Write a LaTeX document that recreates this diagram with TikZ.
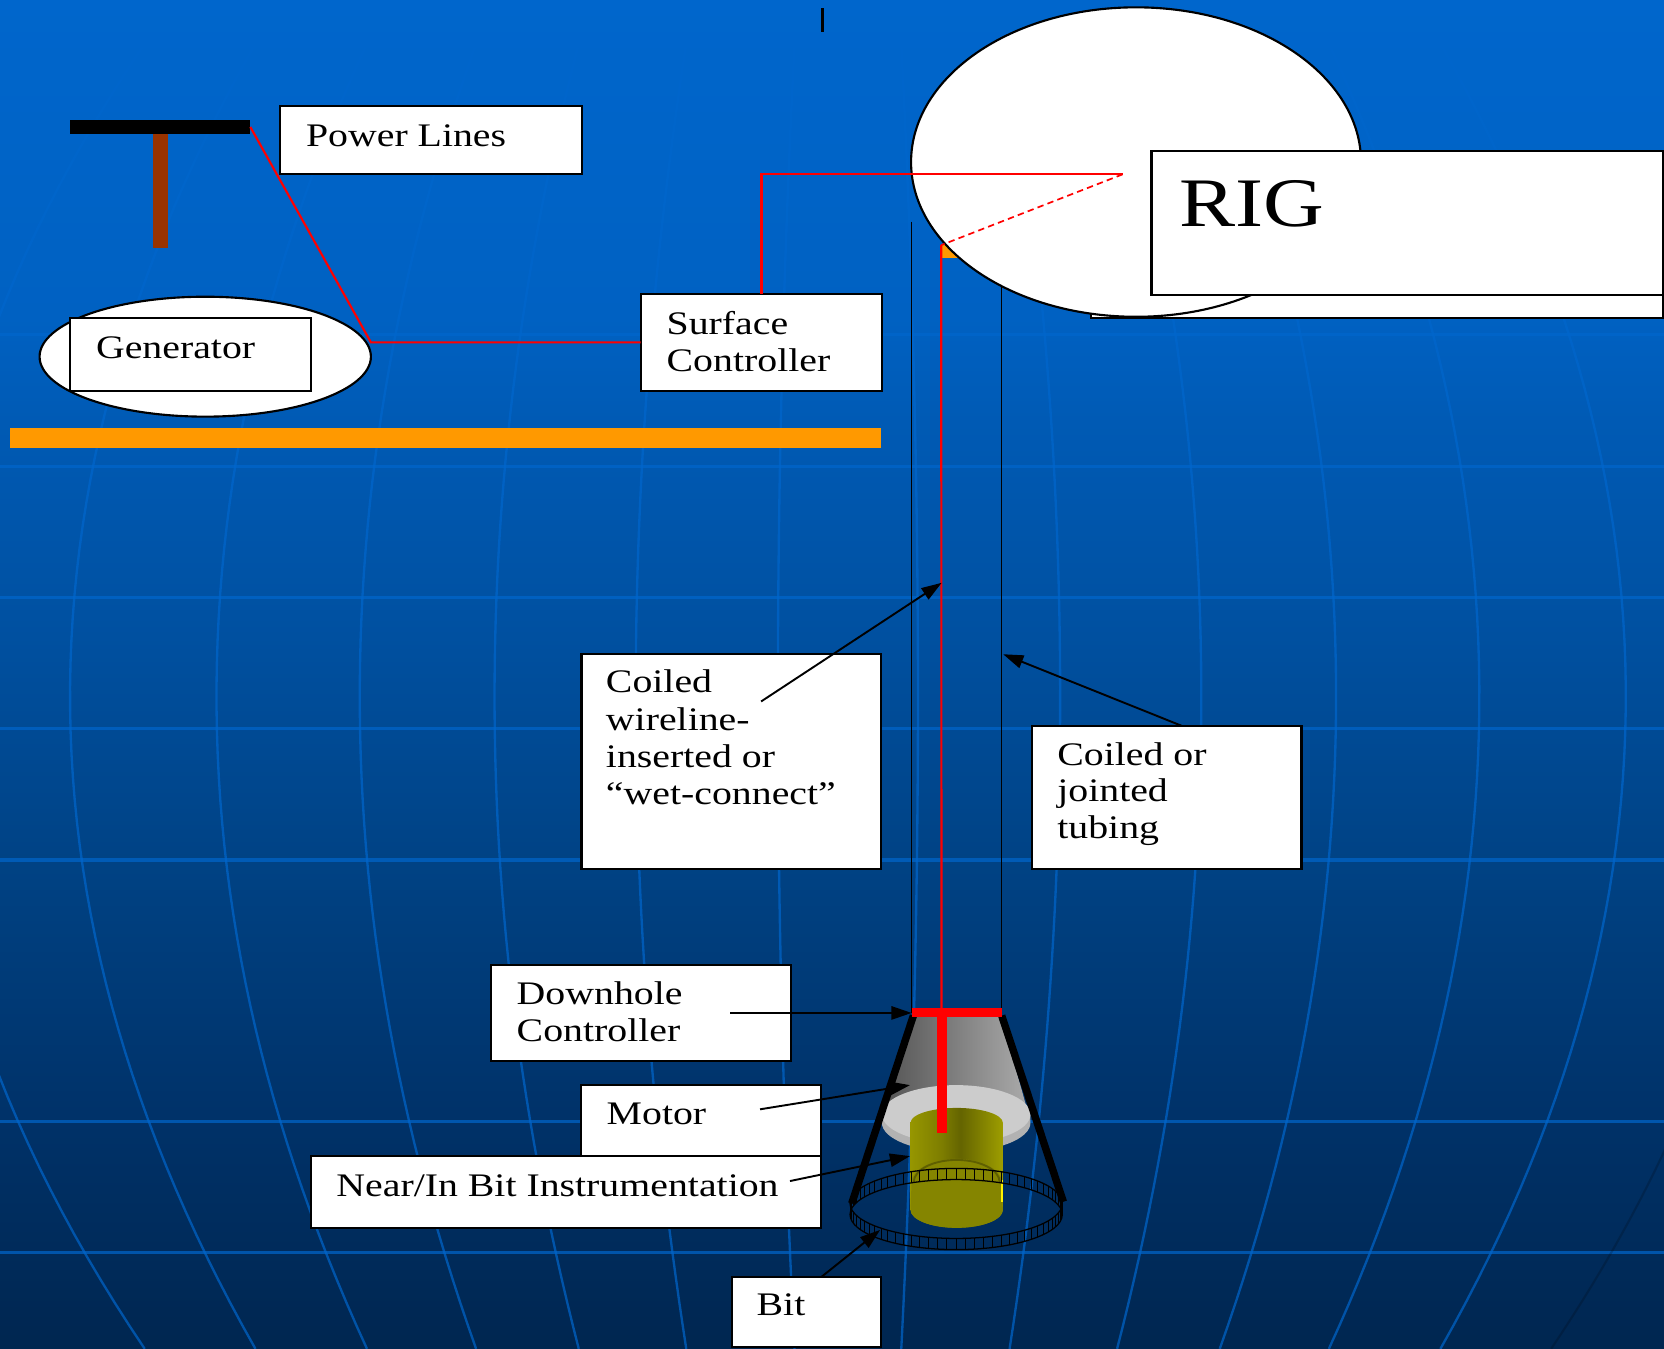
\documentclass[tikz,border=0pt]{standalone}
\usepackage{fontspec}
\setmainfont{Liberation Serif}[FakeStretch=1.21]
\usetikzlibrary{shapes.geometric,arrows.meta}

% palette
\definecolor{bgtop}{RGB}{0,102,204}
\definecolor{bgA}{RGB}{0,97,194}
\definecolor{bgB}{RGB}{0,90,180}
\definecolor{bgC}{RGB}{0,80,160}
\definecolor{bgD}{RGB}{0,65,130}
\definecolor{bgE}{RGB}{0,50,105}
\definecolor{bgbot}{RGB}{0,38,80}
\definecolor{gridblue}{RGB}{0,102,204}
\definecolor{polebrown}{RGB}{153,51,0}
\definecolor{groundorange}{RGB}{255,153,0}
\definecolor{conedark}{RGB}{85,85,85}
\definecolor{conelight}{RGB}{170,170,170}
\definecolor{disctop}{RGB}{204,204,204}
\definecolor{discside}{RGB}{178,178,178}
\definecolor{capA}{RGB}{150,150,0}
\definecolor{capB}{RGB}{125,125,0}
\definecolor{capC}{RGB}{100,100,0}
\definecolor{capD}{RGB}{158,158,0}
\definecolor{caplow}{RGB}{133,133,0}
\definecolor{capedge}{RGB}{95,95,0}

% sky gradient (bottom to top) and tool-body gradient (left to right)
\pgfdeclareverticalshading{skyshade}{100bp}{color(0bp)=(bgbot); color(25bp)=(bgbot); color(33.7bp)=(bgE); color(42.3bp)=(bgD); color(51.4bp)=(bgC); color(59.3bp)=(bgB); color(63.2bp)=(bgA); color(75bp)=(bgtop); color(100bp)=(bgtop)}
\pgfdeclarehorizontalshading{capshade}{100bp}{color(0bp)=(capA); color(25bp)=(capA); color(42bp)=(capB); color(52bp)=(capC); color(62bp)=(capB); color(75bp)=(capD); color(100bp)=(capD)}

\begin{document}
\begin{tikzpicture}[x=1pt,y=-1pt,
  box/.style={draw=black, fill=white, line width=2pt, rectangle, inner sep=0pt, outer sep=0pt, anchor=north west},
  oval/.style={draw=black, fill=white, line width=2pt, ellipse, inner sep=0pt, outer sep=0pt},
  slab/.style={rectangle, inner sep=0pt, outer sep=0pt, anchor=north west, draw=none},
  lbl/.style={anchor=base west, inner sep=0pt, outer sep=0pt, font=\fontsize{31}{35}\selectfont},
  ptr/.style={draw=black, line width=1.8pt, -{Triangle[length=19pt,width=12.5pt]}},
  redwire/.style={draw=red, line width=2pt},
  tube/.style={draw=black, line width=1.6pt},
  leg/.style={draw=black, line width=7pt, line cap=butt},
  latline/.style={draw=gridblue, opacity=0.7, line width=3pt},
  meridian/.style={draw=gridblue, opacity=0.7, line width=2.2pt},
  ringline/.style={draw=black, line width=1.2pt},
  hatch/.style={draw=black, line width=0.9pt}]

\useasboundingbox (0,0) rectangle (1568,1271);

% ---------- background globe ----------
\shade[shading=skyshade] (0,0) rectangle (1568,1271);
\foreach \yy in {315,439.5,563,686.6,810.4,1057,1180.5}
  \draw[latline] (0,\yy) -- (1568,\yy);
\foreach \o in {-870,-733,-595,-460,-333,-200,-66,66,200,333,460,595,733}
  \draw[meridian] plot[domain=0:1271,samples=60,variable=\t]
    ({799+(\o)*(1-0.0063*((\t-656)/100)^2)},{\t});
\draw[draw=black, opacity=0.18, line width=2pt] plot[domain=980:1271,samples=20,variable=\t]
    ({799+870*(1-0.0063*((\t-656)/100)^2)},{\t});

\coordinate (tickA) at (775,8);
\coordinate (tickB) at (775,30);
\draw[line width=2pt] (tickA) -- (tickB);

% ---------- surface: power, generator, ground ----------
\node[slab, fill=polebrown, minimum width=13.8pt, minimum height=107.7pt] (post) at (144.6,126.3) {};
\node[slab, fill=black, minimum width=169.6pt, minimum height=13.3pt] (bar) at (66.3,113) {};

\node[oval, minimum width=312.2pt, minimum height=113pt] (gen) at (193.4,336.1) {};
\node[box, minimum width=227pt, minimum height=68.2pt] (genbox) at (66.3,300) {};
\node[lbl] (gen-t) at (90.5,337.7) {Generator};

\node[box, minimum width=284.2pt, minimum height=64.7pt] (pl) at (263.9,99.6) {};
\node[lbl] (pl-t) at (288.4,138.2) {Power Lines};

\node[slab, fill=groundorange, minimum width=820.7pt, minimum height=18.9pt] (ground) at (9.3,403.6) {};

\node[box, minimum width=227.7pt, minimum height=91.2pt] (sc) at (603.7,277) {};
\draw[redwire] (bar.east) -- (gen.east |- sc.west) -- (sc.west);

% ---------- rig ----------
\coordinate (tubeLtop) at (858.9,208.9);
\coordinate (tubeLbot) at (858.9,955);
\coordinate (tubeRtop) at (943.8,240);
\coordinate (tubeRbot) at (943.8,955);
\coordinate (rigpt) at (1057.8,164.3);
\coordinate (wiretop) at (886.9,231);
\coordinate (wirebot) at (887.2,955);

\node[box, minimum width=539pt, minimum height=150pt] (rigback) at (1028.1,150) {};
\fill[groundorange] (888,231) rectangle (905,243);
\draw[tube] (tubeRtop) -- (tubeRbot);
\draw[tube] (tubeLtop) -- (tubeLbot);
\node[oval, minimum width=424pt, minimum height=291.6pt] (rig) at (1070.5,152.7) {};
\draw[redwire] (sc.north) |- (rigpt);
\draw[redwire, line width=1.6pt, dash pattern=on 6pt off 4pt] (rigpt) -- (wiretop);
\draw[redwire] (wiretop) -- (wirebot);
\node[box, minimum width=482pt, minimum height=135.7pt] (rigbox) at (1085.1,142) {};
\node[anchor=base west, inner sep=0pt, font=\fontsize{65.5}{70}\selectfont] (rig-t) at (1111.3,213) {RIG};

\node[lbl] (sc-t1) at (628.2,315) {Surface};
\node[lbl] (sc-t2) at (628.2,350.2) {Controller};

% ---------- downhole assembly ----------
\shade[left color=conedark, right color=conelight] (861,956) -- (943,956) -- (968,1046) -- (834,1046) -- cycle;
\fill[discside] (831,1050) -- (831,1058) arc[start angle=180, end angle=0, x radius=70, y radius=27.5] -- (971,1050) -- cycle;
\fill[disctop] (901,1050) ellipse[x radius=70, y radius=27.5];

\shade[shading=capshade] (858,1058) -- (858,1140) arc[start angle=180, end angle=0, x radius=43.5, y radius=17]
  -- (945,1058) arc[start angle=0, end angle=-180, x radius=43.5, y radius=14] -- cycle;
\fill[caplow] (859,1114) arc[start angle=180, end angle=360, x radius=42.5, y radius=22]
  -- (945,1140) arc[start angle=0, end angle=180, x radius=43.5, y radius=17] -- cycle;
\draw[capedge, line width=1.8pt] (861,1114) arc[start angle=180, end angle=360, x radius=40.5, y radius=21];
\draw[yellow, line width=2pt] (944.2,1112) -- (944.2,1133);

\foreach \a in {0,5,...,355}
  \draw[hatch] ({901+100*cos(\a)},{1134+33*sin(\a)}) -- ++(0,10.5);
\draw[ringline] (901,1134) ellipse[x radius=100, y radius=33];
\draw[ringline] (901,1144.5) ellipse[x radius=100, y radius=33];

\coordinate (legLtop) at (860.7,957);
\coordinate (legLbot) at (802.6,1134);
\coordinate (legRtop) at (943.9,957);
\coordinate (legRbot) at (1002,1132.4);
\draw[leg] (legLtop) -- (legLbot);
\draw[leg] (legRtop) -- (legRbot);

\coordinate (tbarL) at (859,954.5);
\coordinate (tbarR) at (944,954.5);
\coordinate (tstemTop) at (887.4,954.5);
\coordinate (tstemBot) at (887.4,1067.4);
\draw[red, line width=8.5pt] (tbarL) -- (tbarR);
\draw[red, line width=9.2pt] (tstemTop) -- (tstemBot);

% ---------- callout boxes ----------
\node[box, minimum width=282pt, minimum height=202.5pt] (cw) at (548,616.5) {};
\node[lbl] (cw-t1) at (571,652.5) {Coiled};
\node[lbl] (cw-t2) at (571,688) {wireline-};
\node[lbl] (cw-t3) at (571,723.2) {inserted or};
\node[lbl] (cw-t4) at (571,758) {“wet-connect”};

\node[box, minimum width=254.1pt, minimum height=135.1pt] (ct) at (972.3,683.9) {};
\node[lbl] (ct-t1) at (996.3,721) {Coiled or};
\node[lbl] (ct-t2) at (996.3,755.5) {jointed};
\node[lbl] (ct-t3) at (996.3,790) {tubing};

\node[box, minimum width=282.4pt, minimum height=90.4pt] (dh) at (463,909.4) {};
\node[lbl] (dh-t1) at (486.9,947) {Downhole};
\node[lbl] (dh-t2) at (486.9,981.6) {Controller};

\node[box, minimum width=226.1pt, minimum height=67pt] (mo) at (547.5,1022.4) {};
\node[lbl] (mo-t) at (571.7,1060) {Motor};

\node[box, minimum width=480.6pt, minimum height=68.1pt] (nb) at (293,1089.4) {};
\node[lbl] (nb-t) at (317,1127.7) {Near/In Bit Instrumentation};

\node[box, minimum width=140.7pt, minimum height=66pt] (bit) at (689.5,1203) {};
\node[lbl] (bit-t) at (713,1240) {Bit};

% ---------- pointers ----------
\coordinate (cwFrom) at (717.2,661);
\coordinate (cwTo) at (887.3,549.2);
\coordinate (ctFrom) at (1113.4,683.9);
\coordinate (ctTo) at (945.3,616.5);
\coordinate (dhFrom) at (688,954.5);
\coordinate (moFrom) at (716.2,1045.3);
\coordinate (moTo) at (857.5,1022.5);
\coordinate (nbFrom) at (744.4,1112.9);
\coordinate (nbTo) at (857.5,1089.4);
\coordinate (bitFrom) at (774.3,1203);
\coordinate (bitTo) at (829.3,1159);

\draw[ptr] (cwFrom) -- (cwTo);
\draw[ptr] (ctFrom) -- (ctTo);
\draw[ptr] (dhFrom) -- (tbarL);
\draw[ptr] (moFrom) -- (moTo);
\draw[ptr] (nbFrom) -- (nbTo);
\draw[ptr] (bitFrom) -- (bitTo);
\end{tikzpicture}
\end{document}
